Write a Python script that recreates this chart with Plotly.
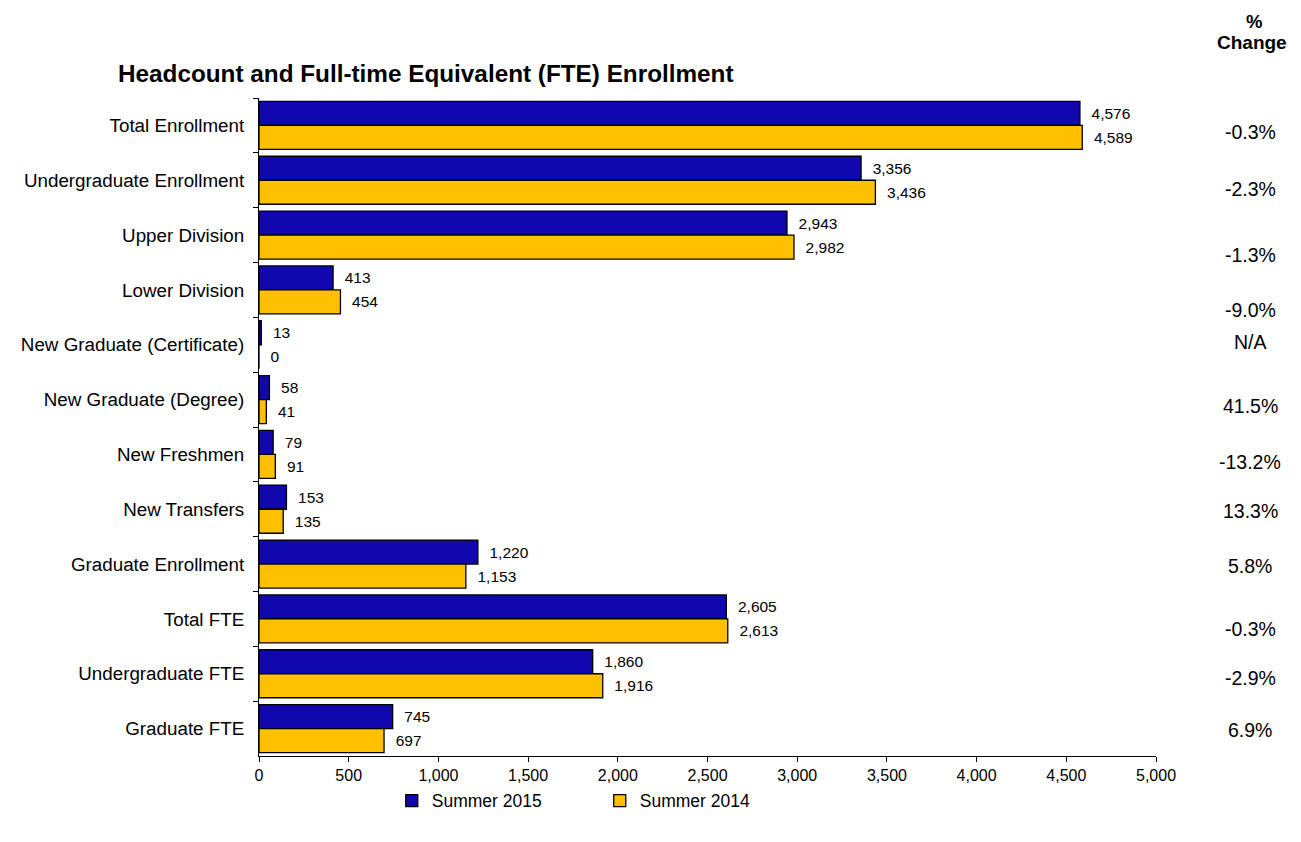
import plotly.graph_objects as go

categories = ["Total Enrollment", "Undergraduate Enrollment", "Upper Division", "Lower Division",
              "New Graduate (Certificate)", "New Graduate (Degree)", "New Freshmen", "New Transfers",
              "Graduate Enrollment", "Total FTE", "Undergraduate FTE", "Graduate FTE"]
summer_2015 = [4576, 3356, 2943, 413, 13, 58, 79, 153, 1220, 2605, 1860, 745]
summer_2014 = [4589, 3436, 2982, 454, 0, 41, 91, 135, 1153, 2613, 1916, 697]
pct_change = ["-0.3%", "-2.3%", "-1.3%", "-9.0%", "N/A", "41.5%", "-13.2%", "13.3%",
              "5.8%", "-0.3%", "-2.9%", "6.9%"]
x_ticks = [0, 500, 1000, 1500, 2000, 2500, 3000, 3500, 4000, 4500, 5000]

# vertical offsets of the % change labels relative to category centres (in category units)
pct_offsets = [0.12, 0.16, 0.36, 0.37, -0.05, 0.12, 0.14, 0.03, 0.03, 0.18, 0.08, 0.03]

BLUE = "#1008AE"
GOLD = "#FFC000"
PAD = "\u00a0\u00a0"

fig = go.Figure()
fig.add_trace(go.Bar(
    y=categories, x=summer_2015, orientation="h", name="Summer 2015",
    marker=dict(color=BLUE, line=dict(color="black", width=1.3)),
    text=[PAD + f"{v:,}" for v in summer_2015], textposition="outside",
    textfont=dict(size=15.5, color="black"), cliponaxis=False,
))
fig.add_trace(go.Bar(
    y=categories, x=summer_2014, orientation="h", name="Summer 2014",
    marker=dict(color=GOLD, line=dict(color="black", width=1.3)),
    text=[PAD + f"{v:,}" for v in summer_2014], textposition="outside",
    textfont=dict(size=15.5, color="black"), cliponaxis=False,
))

annotations = []
for i, (p, off) in enumerate(zip(pct_change, pct_offsets)):
    annotations.append(dict(
        x=1.0, xref="paper", xshift=94, y=i + off, yref="y",
        text=p, showarrow=False, font=dict(size=19.5, color="black"), xanchor="center",
    ))
annotations.append(dict(
    x=1.0, xref="paper", xshift=98, y=1.0, yref="paper", yshift=89,
    text="<b>%</b>", showarrow=False, font=dict(size=18.5, color="black"),
    xanchor="center", yanchor="top",
))
annotations.append(dict(
    x=1.0, xref="paper", xshift=96, y=1.0, yref="paper", yshift=56,
    text="<b>Change</b>", showarrow=False, font=dict(size=19, color="black"),
    xanchor="center", yanchor="middle",
))

fig.update_layout(
    width=1285, height=826,
    paper_bgcolor="white", plot_bgcolor="white",
    font=dict(family="Arial, Liberation Sans, sans-serif", color="black"),
    margin=dict(l=251, r=137, t=90, b=78),
    title=dict(text="<b>Headcount and Full-time Equivalent (FTE) Enrollment</b>",
               x=110 / 1285, xanchor="left", y=1 - 65 / 826, yanchor="middle",
               font=dict(size=24.3, color="black")),
    barmode="group", bargap=0.125, bargroupgap=0,
    xaxis=dict(range=[0, 5000], tickvals=x_ticks, tickformat=",", showgrid=False,
               showline=True, linecolor="black", linewidth=1, ticks="outside",
               ticklen=5, tickcolor="black", tickfont=dict(size=16), zeroline=False),
    yaxis=dict(autorange="reversed", showgrid=False, showline=True, linecolor="black",
               linewidth=1, ticks="outside", ticklen=5, tickcolor="black",
               tickson="boundaries", tickfont=dict(size=18.8), ticklabelstandoff=10),
    legend=dict(orientation="h", x=0.148, y=-0.068, xanchor="left", yanchor="middle",
                font=dict(size=17.5), itemwidth=30, entrywidth=163),
    annotations=annotations,
)

fig.write_html("out.html")
